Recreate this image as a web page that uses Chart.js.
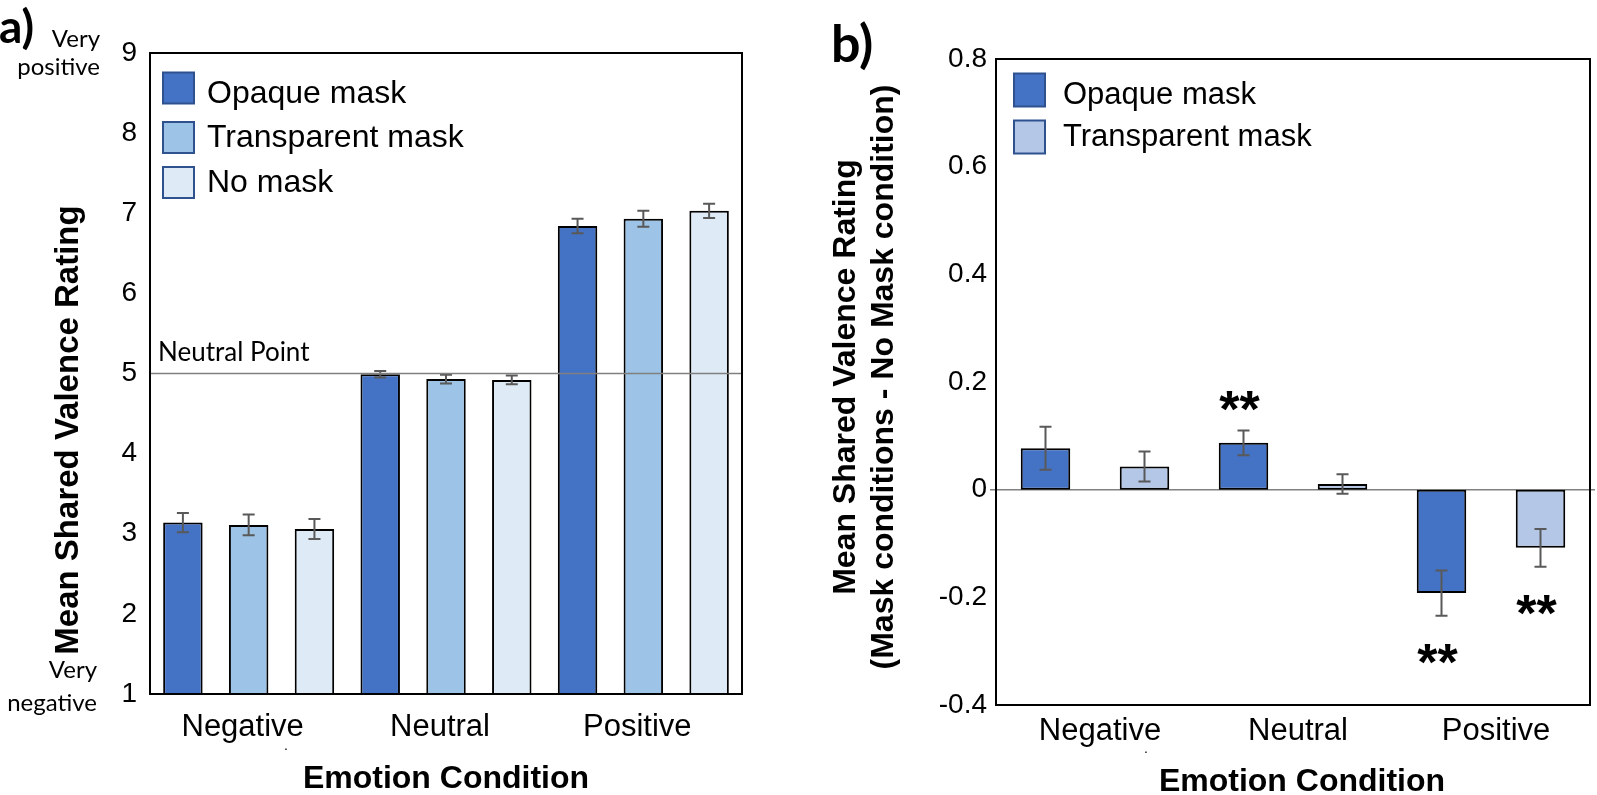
<!DOCTYPE html>
<html><head><meta charset="utf-8">
<script src="https://cdn.jsdelivr.net/npm/chart.js@4.4.0/dist/chart.umd.min.js"></script>
<style>
html,body{margin:0;padding:0;background:#fff;width:1597px;height:795px;overflow:hidden}
#ca{position:absolute;left:0;top:0}
#cb{position:absolute;left:790px;top:0}
</style></head><body>
<canvas id="ca" width="790" height="795"></canvas>
<canvas id="cb" width="807" height="795"></canvas>
<script>
// ---------- data ----------
const categories = ['Negative', 'Neutral', 'Positive'];

// panel a) mean shared valence rating
const seriesNamesA = ['Opaque mask', 'Transparent mask', 'No mask'];
const opaqueA = [3.14, 4.99, 6.84];
const opaqueAErr = [0.12, 0.04, 0.09];
const transparentA = [3.11, 4.93, 6.93];
const transparentAErr = [0.13, 0.055, 0.10];
const noMaskA = [3.06, 4.92, 7.03];
const noMaskAErr = [0.125, 0.055, 0.09];
const leftTicks = [1, 2, 3, 4, 5, 6, 7, 8, 9];
const neutralPoint = 5;

// panel b) difference to no-mask condition
const seriesNamesB = ['Opaque mask', 'Transparent mask'];
const opaqueB = [0.077, 0.087, -0.192];
const opaqueBErr = [0.040, 0.023, 0.042];
const transparentB = [0.043, 0.0105, -0.108];
const transparentBErr = [0.028, 0.018, 0.035];
const rightTicks = [-0.4, -0.2, 0, 0.2, 0.4, 0.6, 0.8];
const rightTickLabels = ['-0.4', '-0.2', '0', '0.2', '0.4', '0.6', '0.8'];
const significanceOpaqueB = ['', '**', '**'];
const significanceTransparentB = ['', '', '**'];

// ---------- styles ----------
const C_OPAQUE = '#4472C4';
const C_TRANS_A = '#9DC3E6';
const C_NOMASK = '#DEEBF7';
const C_TRANS_B = '#B4C7E7';
const SANS = '"Liberation Sans", Arial, sans-serif';
const CAL = 'Lato, "Open Sans", sans-serif';

function rotText(ctx, txt, x, y, font) {
  ctx.save();
  ctx.translate(x, y);
  ctx.rotate(-Math.PI / 2);
  ctx.font = font;
  ctx.fillStyle = '#000';
  ctx.textAlign = 'center';
  ctx.textBaseline = 'middle';
  ctx.fillText(txt, 0, 0);
  ctx.restore();
}

function drawErrors(chart, capHalf) {
  const ctx = chart.ctx, ys = chart.scales.y;
  chart.data.datasets.forEach((ds, i) => {
    const meta = chart.getDatasetMeta(i);
    meta.data.forEach((bar, j) => {
      const v = ds.data[j], e = ds.errors[j];
      const y1 = ys.getPixelForValue(v + e), y2 = ys.getPixelForValue(v - e);
      ctx.save();
      ctx.strokeStyle = '#595959';
      ctx.lineWidth = 2;
      ctx.beginPath();
      ctx.moveTo(bar.x, y1); ctx.lineTo(bar.x, y2);
      ctx.moveTo(bar.x - capHalf, y1); ctx.lineTo(bar.x + capHalf, y1);
      ctx.moveTo(bar.x - capHalf, y2); ctx.lineTo(bar.x + capHalf, y2);
      ctx.stroke();
      ctx.restore();
    });
  });
}

function drawFrame(chart) {
  const a = chart.chartArea, ctx = chart.ctx;
  ctx.save();
  ctx.strokeStyle = '#000';
  ctx.lineWidth = 2;
  ctx.strokeRect(a.left, a.top, a.right - a.left, a.bottom - a.top);
  ctx.restore();
}

function drawLegend(chart, x0, sqRows, textRows, sq, font, textX) {
  const ctx = chart.ctx;
  chart.data.datasets.forEach((ds, i) => {
    const cy = sqRows[i];
    ctx.save();
    ctx.fillStyle = ds.backgroundColor;
    ctx.fillRect(x0, cy - sq.h / 2, sq.w, sq.h);
    ctx.strokeStyle = '#2F528F';
    ctx.lineWidth = 2;
    ctx.strokeRect(x0, cy - sq.h / 2, sq.w, sq.h);
    ctx.fillStyle = '#000';
    ctx.font = font;
    ctx.textAlign = 'left';
    ctx.textBaseline = 'middle';
    ctx.fillText(ds.label, textX, textRows[i]);
    ctx.restore();
  });
}

// ---------- panel a ----------
const decoA = {
  id: 'decoA',
  afterDatasetsDraw(chart) {
    const ctx = chart.ctx, a = chart.chartArea, ys = chart.scales.y;
    drawErrors(chart, 6);
    // neutral line
    const yn = ys.getPixelForValue(neutralPoint);
    ctx.save();
    ctx.strokeStyle = '#808080';
    ctx.lineWidth = 1.5;
    ctx.beginPath(); ctx.moveTo(a.left, yn); ctx.lineTo(a.right, yn); ctx.stroke();
    ctx.fillStyle = '#000';
    ctx.font = '26px ' + CAL;
    ctx.textAlign = 'left';
    ctx.textBaseline = 'alphabetic';
    ctx.fillText('Neutral Point', 158, yn - 13);
    ctx.restore();
    drawFrame(chart);
    drawLegend(chart, 163, [88, 137.5, 182.5], [94, 138, 183], {w: 31, h: 31}, '32px ' + SANS, 207);
    // panel label and anchors
    ctx.save();
    ctx.fillStyle = '#000';
    ctx.font = 'bold 46px ' + CAL;
    ctx.textAlign = 'left'; ctx.textBaseline = 'alphabetic';
    ctx.fillText('a)', -1, 43);
    ctx.font = '24px ' + CAL;
    ctx.textAlign = 'right';
    ctx.fillText('Very', 100, 47);
    ctx.fillText('positive', 100, 75);
    ctx.fillText('Very', 97, 678);
    ctx.fillText('negative', 97, 711);
    ctx.font = '14px ' + SANS;
    ctx.textAlign = 'center';
    ctx.fillText('.', 286, 750);
    ctx.font = 'bold 32px ' + SANS;
    ctx.textBaseline = 'middle';
    ctx.fillText('Emotion Condition', (a.left + a.right) / 2, 779);
    ctx.restore();
    rotText(ctx, 'Mean Shared Valence Rating', 69, 430, 'bold 33px ' + SANS);
  }
};

new Chart(document.getElementById('ca'), {
  type: 'bar',
  data: {
    labels: categories,
    datasets: [
      {label: seriesNamesA[0], data: opaqueA, errors: opaqueAErr, backgroundColor: C_OPAQUE},
      {label: seriesNamesA[1], data: transparentA, errors: transparentAErr, backgroundColor: C_TRANS_A},
      {label: seriesNamesA[2], data: noMaskA, errors: noMaskAErr, backgroundColor: C_NOMASK}
    ].map(d => Object.assign(d, {borderColor: '#000', borderWidth: 2, borderSkipped: false,
      barPercentage: 0.6, categoryPercentage: 1.0}))
  },
  options: {
    responsive: false, animation: false, devicePixelRatio: 1,
    layout: {padding: {left: 0, right: 48, top: 53, bottom: 0}},
    plugins: {legend: {display: false}, tooltip: {enabled: false}},
    scales: {
      x: {
        grid: {display: false, drawTicks: false}, border: {display: false},
        ticks: {font: {family: SANS, size: 31}, color: '#000', padding: 15, labelOffset: -6,
          maxRotation: 0, autoSkip: false},
        afterFit(s) { s.height = 101; }
      },
      y: {
        min: leftTicks[0], max: leftTicks[leftTicks.length - 1],
        grid: {display: false, drawTicks: false}, border: {display: false},
        afterBuildTicks(s) { s.ticks = leftTicks.map(v => ({value: v})); },
        ticks: {font: {family: SANS, size: 28}, color: '#000', padding: 13,
          callback: v => String(v)},
        afterFit(s) { s.width = 150; }
      }
    }
  },
  plugins: [decoA]
});

// ---------- panel b ----------
const decoB = {
  id: 'decoB',
  beforeDatasetsDraw(chart) {
    const ctx = chart.ctx, a = chart.chartArea, ys = chart.scales.y;
    const y0 = ys.getPixelForValue(0);
    ctx.save();
    ctx.strokeStyle = '#808080';
    ctx.lineWidth = 1.5;
    ctx.beginPath(); ctx.moveTo(a.left - 6, y0); ctx.lineTo(a.right + 5, y0); ctx.stroke();
    ctx.restore();
  },
  afterDatasetsDraw(chart) {
    const ctx = chart.ctx, a = chart.chartArea, ys = chart.scales.y;
    drawErrors(chart, 6);
    // significance stars
    const sig = [significanceOpaqueB, significanceTransparentB];
    chart.data.datasets.forEach((ds, i) => {
      const meta = chart.getDatasetMeta(i);
      meta.data.forEach((bar, j) => {
        const s = sig[i][j];
        if (!s) return;
        const v = ds.data[j], e = ds.errors[j];
        const cy = v >= 0 ? ys.getPixelForValue(v + e) - 33 : ys.getPixelForValue(v - e) + 34;
        ctx.save();
        ctx.fillStyle = '#000';
        ctx.font = 'bold 52px ' + SANS;
        ctx.textAlign = 'center';
        ctx.textBaseline = 'alphabetic';
        ctx.fillText(s, bar.x - 4, cy + 30);
        ctx.restore();
      });
    });
    drawFrame(chart);
    drawLegend(chart, 224, [90, 137], [95, 137], {w: 31, h: 33}, '31px ' + SANS, 273);
    ctx.save();
    ctx.fillStyle = '#000';
    ctx.font = 'bold 52px ' + CAL;
    ctx.textAlign = 'left'; ctx.textBaseline = 'alphabetic';
    ctx.fillText('b)', 41, 62);
    ctx.font = '14px ' + SANS;
    ctx.textAlign = 'center';
    ctx.fillText('.', 356, 753);
    ctx.font = 'bold 32px ' + SANS;
    ctx.textBaseline = 'middle';
    ctx.fillText('Emotion Condition', 512, 782);
    ctx.restore();
    rotText(ctx, 'Mean Shared Valence Rating', 56, 377, 'bold 32px ' + SANS);
    rotText(ctx, '(Mask conditions - No Mask condition)', 94, 377, 'bold 32px ' + SANS);
  }
};

new Chart(document.getElementById('cb'), {
  type: 'bar',
  data: {
    labels: categories,
    datasets: [
      {label: seriesNamesB[0], data: opaqueB, errors: opaqueBErr, backgroundColor: C_OPAQUE},
      {label: seriesNamesB[1], data: transparentB, errors: transparentBErr, backgroundColor: C_TRANS_B}
    ].map(d => Object.assign(d, {borderColor: '#000', borderWidth: 2, borderSkipped: false,
      barPercentage: 0.5, categoryPercentage: 1.0}))
  },
  options: {
    responsive: false, animation: false, devicePixelRatio: 1,
    layout: {padding: {left: 0, right: 7, top: 59, bottom: 0}},
    plugins: {legend: {display: false}, tooltip: {enabled: false}},
    scales: {
      x: {
        grid: {display: false, drawTicks: false}, border: {display: false},
        ticks: {font: {family: SANS, size: 31}, color: '#000', padding: 8, labelOffset: 5,
          maxRotation: 0, autoSkip: false},
        afterFit(s) { s.height = 90; }
      },
      y: {
        min: rightTicks[0], max: rightTicks[rightTicks.length - 1],
        grid: {display: false, drawTicks: false}, border: {display: false},
        afterBuildTicks(s) { s.ticks = rightTicks.map(v => ({value: v})); },
        ticks: {font: {family: SANS, size: 28}, color: '#000', padding: 9,
          callback: (v) => {
            const i = rightTicks.findIndex(t => Math.abs(t - v) < 1e-6);
            return i >= 0 ? rightTickLabels[i] : '';
          }},
        afterFit(s) { s.width = 206; }
      }
    }
  },
  plugins: [decoB]
});
</script>
</body></html>
